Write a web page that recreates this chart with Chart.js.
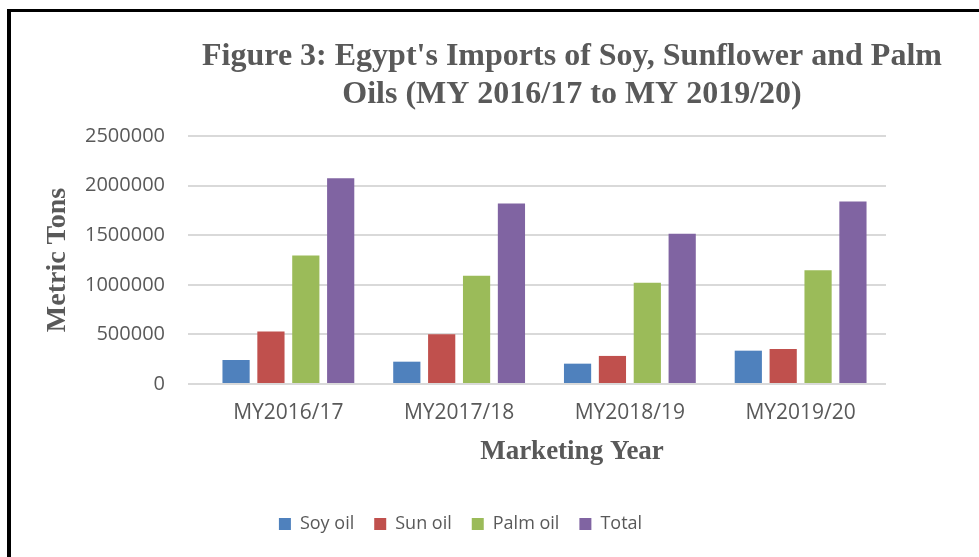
<!DOCTYPE html>
<html>
<head>
<meta charset="utf-8">
<title>Egypt's Imports of Soy, Sunflower and Palm Oils</title>
<script src="https://cdn.jsdelivr.net/npm/chart.js@4/dist/chart.umd.min.js"></script>
<style>
  html, body { margin: 0; padding: 0; background: #fff; overflow: hidden; }
  body { width: 979px; height: 557px; position: relative; }
  .frame { position: absolute; left: 7px; top: 9px; right: 0; bottom: 0; border-left: 4px solid #000; border-top: 3px solid #000; }
  .box { position: absolute; left: 11px; top: 12px; width: 968px; height: 545px; }
</style>
</head>
<body>
<div class="frame"></div>
<div class="box"><canvas id="chart"></canvas></div>
<script>
// values (metric tons)
const years = ['MY2016/17', 'MY2017/18', 'MY2018/19', 'MY2019/20'];
const soyOil = [242000, 225000, 205000, 336000];
const sunOil = [528000, 501000, 283000, 353000];
const palmOil = [1295000, 1090000, 1020000, 1147000];
const total = [2073000, 1820000, 1515000, 1840000];
const yTicks = [0, 500000, 1000000, 1500000, 2000000, 2500000];

const titleLines = ["Figure 3: Egypt's Imports of Soy, Sunflower and Palm", 'Oils (MY 2016/17 to MY 2019/20)'];
const xTitle = 'Marketing Year';
const yTitle = 'Metric Tons';

const grey = '#595959';
const sans = "'Open Sans', sans-serif";
const serif = "'Liberation Serif', 'Times New Roman', serif";

// title and x axis title sit off-centre in the original, so draw them here
const textPlugin = {
    id: 'figText',
    afterDraw(chart) {
        const ctx = chart.ctx;
        ctx.save();
        ctx.fillStyle = grey;
        ctx.textAlign = 'center';
        ctx.textBaseline = 'middle';
        ctx.font = 'bold 32px ' + serif;
        ctx.fillText(titleLines[0], 561, 45);
        ctx.fillText(titleLines[1], 561, 83);
        ctx.font = 'bold 27px ' + serif;
        ctx.fillText(xTitle, 561, 440);
        ctx.restore();
    }
};

const ds = (label, data, color) => ({
    label, data,
    backgroundColor: color,
    borderWidth: 0,
    categoryPercentage: 0.817,
    barPercentage: 0.78,
});

new Chart(document.getElementById('chart'), {
    type: 'bar',
    data: {
        labels: years,
        datasets: [
            ds('Soy oil', soyOil, '#4f81bd'),
            ds('Sun oil', sunOil, '#c0504d'),
            ds('Palm oil', palmOil, '#9bbb59'),
            ds('Total', total, '#8064a2'),
        ]
    },
    options: {
        responsive: true,
        maintainAspectRatio: false,
        animation: false,
        layout: { padding: { top: 124, right: 93, bottom: 14, left: 24 } },
        scales: {
            x: {
                grid: { display: false, drawTicks: false },
                border: { display: false },
                ticks: { color: grey, font: { family: sans, size: 21 }, padding: 16 },
                afterFit(s) { s.height = 111; }
            },
            y: {
                min: 0,
                max: 2500000,
                afterBuildTicks(s) { s.ticks = yTicks.map(v => ({ value: v })); },
                grid: { color: '#d9d9d9', lineWidth: 2, drawTicks: true, tickLength: 15 },
                border: { display: false },
                ticks: { color: grey, font: { family: sans, size: 20 }, padding: 23, callback: v => String(v) },
                title: { display: true, text: yTitle, color: grey, font: { family: serif, size: 28, weight: 'bold' }, padding: { top: 6, bottom: 0 } },
                afterFit(s) { s.width = 168; }
            }
        },
        plugins: {
            legend: {
                position: 'bottom',
                labels: { color: grey, font: { family: sans, size: 18 }, boxWidth: 12, boxHeight: 12, padding: 20 }
            },
            tooltip: { enabled: false }
        }
    },
    plugins: [textPlugin]
});
</script>
</body>
</html>
